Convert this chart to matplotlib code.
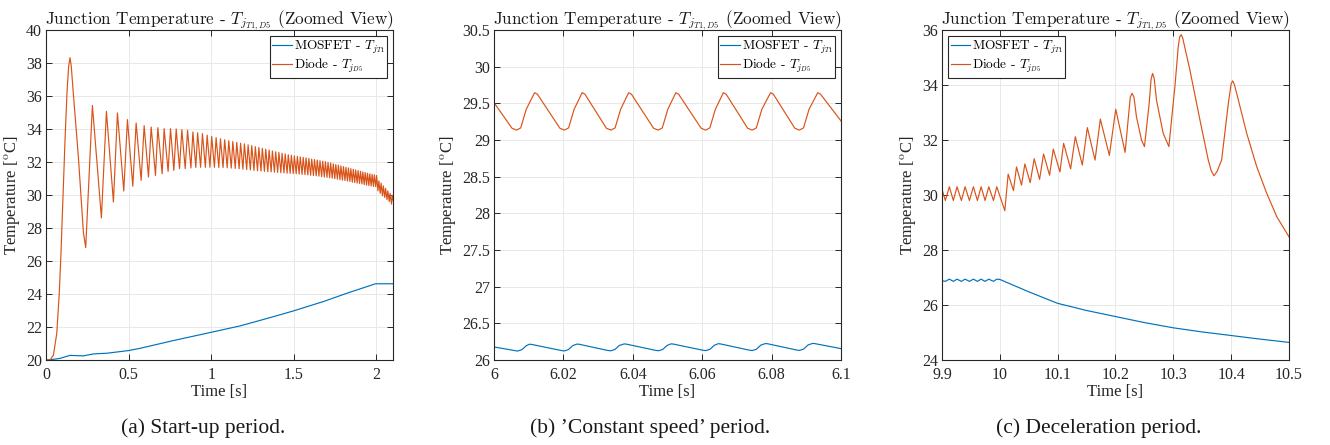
import numpy as np
import matplotlib
matplotlib.use('Agg')
import matplotlib.pyplot as plt
from matplotlib.ticker import FuncFormatter, MultipleLocator

plt.rcParams['mathtext.fontset'] = 'cm'
plt.rcParams['font.family'] = ['Liberation Serif', 'DejaVu Serif']

BLUE = '#0072BD'
ORANGE = '#D95319'

# ---------------- Panel (a): start-up period ----------------
# Diode: initial rise / first peak shape
diode_a_start_t = [0.0, 0.025, 0.045, 0.065, 0.08, 0.09, 0.103, 0.115, 0.127, 0.137,
                   0.153, 0.165, 0.196, 0.2266]
diode_a_start_T = [20.0, 20.0, 20.3, 21.6, 24.0, 26.3, 30.0, 33.3, 36.2, 37.8,
                   37.8, 36.2, 32.3, 27.7]
# Diode: local maxima
diode_a_peak_t = [0.1455, 0.2808, 0.3657, 0.4323, 0.4929, 0.5455, 0.594, 0.6364, 0.677, 0.715,
                  0.7535, 0.788, 0.822, 0.8566, 0.889, 0.9176, 0.9468, 0.9752, 1.0027, 1.0295,
                  1.0557, 1.0812, 1.1061, 1.1305, 1.1543, 1.1777, 1.2006, 1.2231, 1.2452, 1.2669,
                  1.2882, 1.3092, 1.3298, 1.3501, 1.3702, 1.3899, 1.4094, 1.4286, 1.4475, 1.4662,
                  1.4847, 1.5030, 1.5210, 1.5388, 1.5564, 1.5738, 1.5910, 1.6081, 1.6249, 1.6416,
                  1.6581, 1.6745, 1.6907, 1.7067, 1.7226, 1.7383, 1.7539, 1.7694, 1.7847, 1.7999,
                  1.8150, 1.8300, 1.8448, 1.8595, 1.8741, 1.8886, 1.9030, 1.9172, 1.9314, 1.9455,
                  1.9594, 1.9733, 1.9870, 2.0007, 2.0143, 2.0279, 2.0416, 2.0552, 2.0688, 2.0825,
                  2.0961]
diode_a_peak_T = [38.32, 35.43, 35.07, 34.97, 34.57, 34.36, 34.20, 34.12, 34.08, 34.02,
                  34.02, 34.00, 33.96, 33.92, 33.82, 33.77, 33.72, 33.63, 33.55, 33.48,
                  33.41, 33.35, 33.29, 33.24, 33.19, 33.14, 33.10, 33.04, 32.99, 32.93,
                  32.88, 32.83, 32.78, 32.73, 32.67, 32.62, 32.58, 32.53, 32.49, 32.44,
                  32.41, 32.37, 32.34, 32.31, 32.28, 32.25, 32.22, 32.18, 32.15, 32.12,
                  32.08, 32.05, 32.02, 31.98, 31.94, 31.89, 31.85, 31.81, 31.76, 31.72,
                  31.68, 31.64, 31.60, 31.56, 31.52, 31.48, 31.44, 31.40, 31.36, 31.32,
                  31.28, 31.25, 31.22, 31.18, 30.85, 30.72, 30.55, 30.40, 30.25, 30.10,
                  29.98]
# Diode: local minima
diode_a_trough_t = [0.2404, 0.3354, 0.408, 0.4707, 0.5253, 0.5758, 0.6202, 0.6626, 0.703, 0.739,
                    0.7737, 0.808, 0.8424, 0.877, 0.9067, 0.9357, 0.9644, 0.9922, 1.0193, 1.0457,
                    1.0715, 1.0966, 1.1212, 1.1453, 1.1688, 1.1919, 1.2145, 1.2368, 1.2587, 1.2801,
                    1.3012, 1.3220, 1.3424, 1.3626, 1.3824, 1.4020, 1.4213, 1.4403, 1.4591, 1.4777,
                    1.4960, 1.5142, 1.5320, 1.5497, 1.5672, 1.5845, 1.6016, 1.6185, 1.6353, 1.6518,
                    1.6683, 1.6845, 1.7006, 1.7166, 1.7323, 1.7480, 1.7635, 1.7789, 1.7941, 1.8093,
                    1.8243, 1.8392, 1.8539, 1.8686, 1.8831, 1.8975, 1.9118, 1.9260, 1.9401, 1.9541,
                    1.9680, 1.9818, 1.9955, 2.0091, 2.0227, 2.0364, 2.0500, 2.0636, 2.0773, 2.0909,
                    2.1]
diode_a_trough_T = [26.81, 28.61, 29.58, 30.24, 30.53, 30.89, 31.09, 31.19, 31.29, 31.43,
                    31.49, 31.60, 31.60, 31.64, 31.67, 31.68, 31.68, 31.68, 31.68, 31.67,
                    31.66, 31.65, 31.63, 31.61, 31.59, 31.56, 31.54, 31.52, 31.49, 31.47,
                    31.45, 31.43, 31.41, 31.40, 31.38, 31.37, 31.35, 31.34, 31.32, 31.31,
                    31.30, 31.29, 31.27, 31.25, 31.24, 31.22, 31.20, 31.18, 31.16, 31.14,
                    31.11, 31.09, 31.07, 31.05, 31.02, 30.99, 30.96, 30.93, 30.90, 30.88,
                    30.85, 30.82, 30.78, 30.75, 30.72, 30.70, 30.67, 30.63, 30.60, 30.57,
                    30.55, 30.52, 30.50, 30.25, 30.10, 29.95, 29.85, 29.72, 29.60, 29.45,
                    29.70]
mosfet_a_t = [0.0, 0.03, 0.085, 0.145, 0.226, 0.287, 0.368, 0.499, 0.570, 0.772,
              1.0, 1.176, 1.378, 1.499, 1.681, 1.822, 1.994, 2.1]
mosfet_a_T = [20.0, 20.02, 20.10, 20.28, 20.25, 20.37, 20.41, 20.57, 20.71, 21.18,
              21.68, 22.07, 22.63, 22.98, 23.55, 24.05, 24.62, 24.62]

# ---------------- Panel (b): constant speed ----------------
diode_b_t = [6.0,
             6.0052, 6.0065, 6.0077, 6.0093, 6.0117, 6.0125,
             6.0190, 6.0203, 6.0215, 6.0231, 6.0254, 6.0262,
             6.0324, 6.0337, 6.0349, 6.0365, 6.0388, 6.0396,
             6.0460, 6.0473, 6.0485, 6.0501, 6.0524, 6.0532,
             6.0597, 6.0610, 6.0622, 6.0638, 6.0661, 6.0669,
             6.0731, 6.0744, 6.0756, 6.0772, 6.0797, 6.0805,
             6.0867, 6.0880, 6.0892, 6.0908, 6.0933, 6.0941,
             6.1]
diode_b_T = [29.51,
             29.16, 29.135, 29.165, 29.42, 29.645, 29.625,
             29.16, 29.135, 29.165, 29.42, 29.645, 29.625,
             29.16, 29.135, 29.165, 29.42, 29.645, 29.625,
             29.16, 29.135, 29.165, 29.42, 29.645, 29.625,
             29.16, 29.135, 29.165, 29.42, 29.645, 29.625,
             29.16, 29.135, 29.165, 29.42, 29.645, 29.625,
             29.16, 29.135, 29.165, 29.42, 29.645, 29.625,
             29.26]
mosfet_b_t = [6.0,
              6.0058, 6.0068, 6.0080, 6.0093, 6.0102, 6.0108,
              6.0192, 6.0202, 6.0214, 6.0227, 6.0239, 6.0245,
              6.0326, 6.0336, 6.0348, 6.0361, 6.0375, 6.0381,
              6.0464, 6.0474, 6.0486, 6.0499, 6.0510, 6.0516,
              6.0600, 6.0610, 6.0622, 6.0635, 6.0646, 6.0652,
              6.0734, 6.0744, 6.0756, 6.0769, 6.0782, 6.0788,
              6.0870, 6.0880, 6.0892, 6.0905, 6.0918, 6.0924,
              6.1]
mosfet_b_T = [26.178,
              26.130, 26.122, 26.140, 26.195, 26.215, 26.213,
              26.131, 26.123, 26.141, 26.196, 26.217, 26.215,
              26.132, 26.125, 26.142, 26.198, 26.219, 26.217,
              26.133, 26.126, 26.143, 26.199, 26.220, 26.218,
              26.135, 26.128, 26.145, 26.201, 26.222, 26.220,
              26.136, 26.129, 26.146, 26.203, 26.224, 26.222,
              26.138, 26.131, 26.148, 26.205, 26.226, 26.224,
              26.155]

# ---------------- Panel (c): deceleration ----------------
diode_c_t = [9.9, 9.9058, 9.9127, 9.9196, 9.926, 9.9335, 9.9399, 9.9474, 9.9543, 9.9612,
             9.9676, 9.9745, 9.9809, 9.989, 9.9947, 10.0086,
             10.0144, 10.0236, 10.0288, 10.0375, 10.0433, 10.0525, 10.0594, 10.0687, 10.0756,
             10.086, 10.0924, 10.1039, 10.1103, 10.1224, 10.1305, 10.1426, 10.1513, 10.1646,
             10.1738, 10.1894, 10.2004, 10.2166, 10.2255, 10.2287, 10.232, 10.2362, 10.2449,
             10.2501, 10.2582, 10.2615, 10.264, 10.2668, 10.2709, 10.2825, 10.2923,
             10.3027, 10.3085, 10.311, 10.3136, 10.3163, 10.3286, 10.346, 10.3604, 10.3655,
             10.3703, 10.3755, 10.3835, 10.3951, 10.4, 10.4026, 10.4055,
             10.4095, 10.4269, 10.4442, 10.4615, 10.4789, 10.5]
diode_c_T = [30.20, 29.80, 30.30, 29.80, 30.30, 29.80, 30.30, 29.80, 30.30, 29.80,
             30.30, 29.80, 30.30, 29.80, 30.30, 29.43,
             30.76, 30.16, 31.02, 30.36, 31.13, 30.45, 31.32, 30.57, 31.49,
             30.72, 31.67, 30.84, 31.88, 30.95, 32.12, 31.09, 32.45, 31.27,
             32.76, 31.44, 33.12, 31.55, 33.55, 33.70, 33.55, 32.85, 32.00,
             31.76, 33.33, 34.20, 34.42, 34.25, 33.45, 32.24, 31.76,
             33.94, 35.39, 35.75, 35.83, 35.70, 34.55, 32.73, 31.27, 30.88,
             30.70, 30.85, 31.27, 33.33, 34.05, 34.15, 34.02,
             33.70, 32.24, 31.03, 30.06, 29.21, 28.48]
mosfet_c_t = [9.9, 9.9058, 9.9127, 9.9196, 9.926, 9.9335, 9.9399, 9.9474, 9.9543, 9.9612,
              9.9676, 9.9745, 9.9809, 9.989, 9.9947, 10.0, 10.05, 10.1, 10.15, 10.2,
              10.25, 10.3, 10.35, 10.4, 10.45, 10.5]
mosfet_c_T = [26.88, 26.86, 26.94, 26.86, 26.94, 26.86, 26.94, 26.86, 26.94, 26.86,
              26.94, 26.86, 26.94, 26.86, 26.94, 26.93, 26.48, 26.06, 25.80, 25.58,
              25.36, 25.17, 25.02, 24.89, 24.76, 24.64]


def merge(ts, vs):
    for a, b in zip(ts, vs):
        assert len(a) == len(b), (len(a), len(b))
    t = np.concatenate([np.asarray(a, float) for a in ts])
    v = np.concatenate([np.asarray(a, float) for a in vs])
    o = np.argsort(t, kind='stable')
    return t[o], v[o]


diode_a = merge([diode_a_start_t, diode_a_peak_t, diode_a_trough_t],
                [diode_a_start_T, diode_a_peak_T, diode_a_trough_T])

W, H = 1330, 445
fig = plt.figure(figsize=(W / 100, H / 100), dpi=100)

AXC = '#262626'
panels = [
    dict(left=46, xlim=(0, 2.1), xticks=[0, 0.5, 1, 1.5, 2], ylim=(20, 40), ystep=2,
         mos=(mosfet_a_t, mosfet_a_T), dio=diode_a, legloc='upper right',
         caption='(a) Start-up period.', capx=203),
    dict(left=494, xlim=(6, 6.1), xticks=[6, 6.02, 6.04, 6.06, 6.08, 6.1], ylim=(26, 30.5), ystep=0.5,
         mos=(mosfet_b_t, mosfet_b_T), dio=(diode_b_t, diode_b_T), legloc='upper right',
         caption="(b) \u2019Constant speed\u2019 period.", capx=650),
    dict(left=942, xlim=(9.9, 10.5), xticks=[9.9, 10, 10.1, 10.2, 10.3, 10.4, 10.5], ylim=(24, 36), ystep=2,
         mos=(mosfet_c_t, mosfet_c_T), dio=(diode_c_t, diode_c_T), legloc='upper left',
         caption='(c) Deceleration period.', capx=1099),
]

fmt = FuncFormatter(lambda v, p: ('%.2f' % v).rstrip('0').rstrip('.'))

for P in panels:
    ax = fig.add_axes([P['left'] / W, 1 - 360 / H, 347 / W, 330 / H])
    ax.plot(P['mos'][0], P['mos'][1], color=BLUE, lw=0.85,
            label=r'MOSFET - $T_{j_{T1}}$')
    ax.plot(P['dio'][0], P['dio'][1], color=ORANGE, lw=0.85,
            label=r'Diode - $T_{j_{D5}}$')
    ax.set_xlim(*P['xlim'])
    ax.set_ylim(*P['ylim'])
    ax.set_xticks(P['xticks'])
    ax.yaxis.set_major_locator(MultipleLocator(P['ystep']))
    ax.xaxis.set_major_formatter(fmt)
    ax.yaxis.set_major_formatter(fmt)
    ax.grid(True, color='#e8e8e8', lw=0.7)
    ax.set_axisbelow(True)
    for s in ax.spines.values():
        s.set_color(AXC)
        s.set_linewidth(0.8)
    ax.tick_params(direction='in', top=True, right=True, length=4, width=0.7,
                   color=AXC, labelcolor=AXC, labelsize=11.5)
    ax.tick_params(axis='x', pad=5)
    ax.tick_params(axis='y', pad=3)
    ax.set_xlabel('Time [s]', fontsize=12, color=AXC, labelpad=1)
    ax.set_ylabel(r'Temperature [$^{\mathrm{o}}$C]', fontsize=12, color=AXC, labelpad=3)
    ax.set_title(r'Junction Temperature - $T_{j_{T1,D5}}$ (Zoomed View)',
                 family='cmr10', fontsize=12.4, color='#1a1a1a', pad=4)
    leg = ax.legend(loc=P['legloc'], prop={'family': 'cmr10', 'size': 9.6},
                    fancybox=False, framealpha=1, edgecolor=AXC, handlelength=1.45,
                    handletextpad=0.15, borderpad=0.2, labelspacing=0.1,
                    borderaxespad=0.45)
    leg.get_frame().set_linewidth(0.8)
    fig.text(P['capx'] / W, 1 - 428 / H, P['caption'], fontsize=15.5, ha='center',
             va='center', color='#1a1a1a')

fig.savefig('out.png', dpi=100)
